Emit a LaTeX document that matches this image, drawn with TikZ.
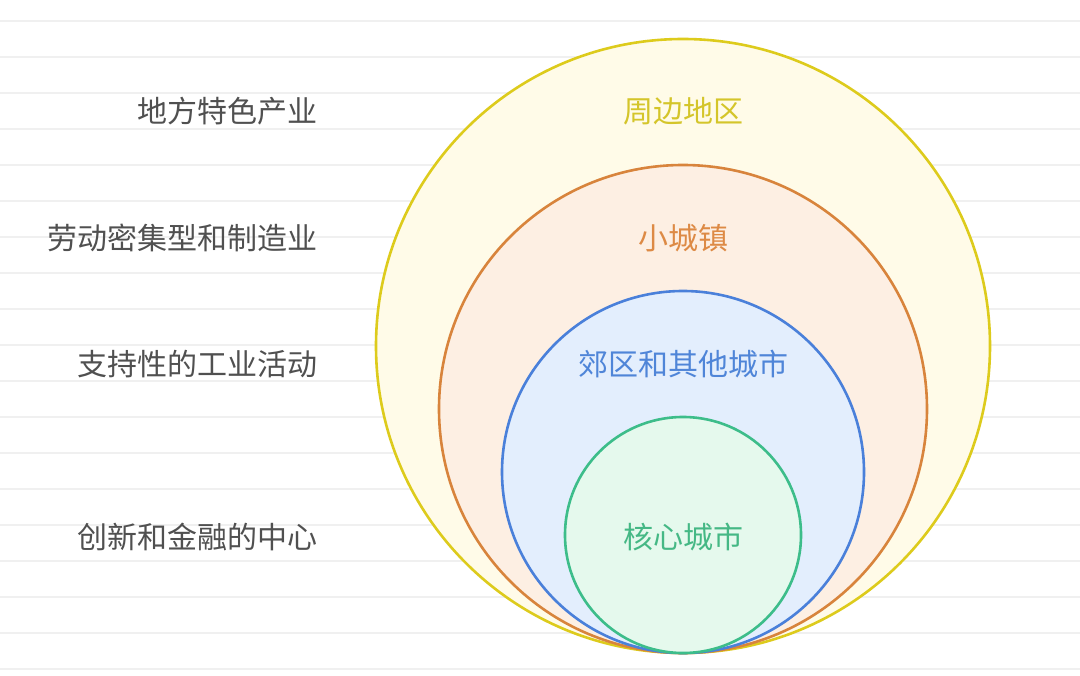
\documentclass[tikz,border=0pt]{standalone}
\usepackage{fontspec}
\setmainfont{Noto Sans CJK SC}
\definecolor{gridc}{HTML}{F0F0F0}
\definecolor{txtgray}{HTML}{505050}
\definecolor{ylwline}{HTML}{DDCB1C}
\definecolor{ylwfill}{HTML}{FFFBE8}
\definecolor{ylwtxt}{HTML}{D4C52A}
\definecolor{orgline}{HTML}{D8843C}
\definecolor{orgfill}{HTML}{FDEFE3}
\definecolor{orgtxt}{HTML}{DD8A45}
\definecolor{bluline}{HTML}{4A80DA}
\definecolor{blufill}{HTML}{E3EEFD}
\definecolor{blutxt}{HTML}{4F85D8}
\definecolor{grnline}{HTML}{3DBD8A}
\definecolor{grnfill}{HTML}{E5F9ED}
\definecolor{grntxt}{HTML}{45B885}
\tikzset{
  ring/.style={circle, line width=2.6pt, inner sep=0pt},
  sidelabel/.style={anchor=east, text=txtgray, font=\fontsize{30}{33}\selectfont, inner sep=0pt},
  ringlabel/.style={anchor=center, font=\fontsize{30}{33}\selectfont, inner sep=0pt},
  gridline/.style={gridc, line width=1.4pt}
}
\begin{document}
\begin{tikzpicture}[x=1pt,y=-1pt]
\useasboundingbox (0,0) rectangle (1080,676);
\fill[white] (0,0) rectangle (1080,676);
\foreach \k in {0,...,18}{
  \draw[gridline] (0,{21+36*\k}) -- (1080,{21+36*\k});
}
\node[ring, draw=ylwline, fill=ylwfill, minimum size=614pt] (c1) at (683,346) {};
\node[ring, draw=orgline, fill=orgfill, minimum size=488pt] (c2) at (683,409) {};
\node[ring, draw=bluline, fill=blufill, minimum size=362pt] (c3) at (683,472) {};
\node[ring, draw=grnline, fill=grnfill, minimum size=236pt] (c4) at (683,535) {};
\node[ringlabel, text=ylwtxt] (l1) at (683,111) {周边地区};
\node[ringlabel, text=orgtxt] (l2) at (683,238) {小城镇};
\node[ringlabel, text=blutxt] (l3) at (683,364) {郊区和其他城市};
\node[ringlabel, text=grntxt] (l4) at (683,537) {核心城市};
\node[sidelabel] (s1) at (318,111) {地方特色产业};
\node[sidelabel] (s2) at (318,238) {劳动密集型和制造业};
\node[sidelabel] (s3) at (318,364) {支持性的工业活动};
\node[sidelabel] (s4) at (318,537) {创新和金融的中心};
\end{tikzpicture}
\end{document}
